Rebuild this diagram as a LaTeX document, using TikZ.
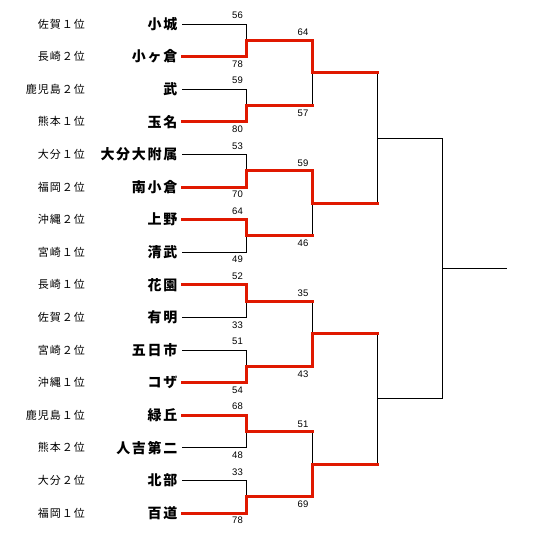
\documentclass[tikz,border=0pt]{standalone}
\usepackage{fontspec}
\newfontfamily\jp{Noto Sans CJK JP}
\newfontfamily\numf{Liberation Sans}
\definecolor{winred}{RGB}{224,24,0}
\tikzset{
 team/.style={anchor=east, inner xsep=4.5pt, inner ysep=0pt, font=\jp\bfseries\addfontfeature{LetterSpace=12}\fontsize{14}{14}\selectfont},
 pref/.style={anchor=east, inner sep=0pt, font=\jp\addfontfeature{LetterSpace=9}\fontsize{11}{11}\selectfont},
 score/.style={anchor=east, inner sep=0pt, font=\numf\fontsize{9.5}{9.5}\selectfont},
 lose/.style={black, line width=1pt},
 win/.style={winred, line width=3pt, line cap=rect},
}
\begin{document}
\begin{tikzpicture}[x=1pt,y=-1pt]
\useasboundingbox (0,0) rectangle (537,533);
% teams and prefecture labels
\foreach \n/\p [count=\i from 0] in {小城/佐賀１位, 小ヶ倉/長崎２位, 武/鹿児島２位, 玉名/熊本１位,
  大分大附属/大分１位, 南小倉/福岡２位, 上野/沖縄２位, 清武/宮崎１位,
  花園/長崎１位, 有明/佐賀２位, 五日市/宮崎２位, コザ/沖縄１位,
  緑丘/鹿児島１位, 人吉第二/熊本２位, 北部/大分２位, 百道/福岡１位} {
  \pgfmathsetmacro\yy{24+32.6*\i}
  \node[team] (t\i) at (182,\yy) {\n};
  \node[pref] (p\i) at (85,\yy) {\p};
}
% junctions
\foreach \k in {0,...,7} {
  \pgfmathsetmacro\yy{24+32.6*(2*\k+0.5)}
  \coordinate (a\k) at (246.7,\yy);
}
\foreach \k in {0,...,3} {
  \pgfmathsetmacro\yy{24+32.6*(4*\k+1.5)}
  \coordinate (b\k) at (312,\yy);
}
\foreach \k in {0,1} {
  \pgfmathsetmacro\yy{24+32.6*(8*\k+3.5)}
  \coordinate (c\k) at (377,\yy);
}
\coordinate (d) at (442,{24+32.6*7.5});
\coordinate (e) at (507,{24+32.6*7.5});
% black lines
\foreach \k in {0,...,7} {
  \pgfmathtruncatemacro\ta{2*\k}
  \pgfmathtruncatemacro\tb{2*\k+1}
  \draw[lose] (t\ta.east) -| (a\k);
  \draw[lose] (t\tb.east) -| (a\k);
}
\foreach \k in {0,...,3} {
  \pgfmathtruncatemacro\ta{2*\k}
  \pgfmathtruncatemacro\tb{2*\k+1}
  \draw[lose] (a\ta) -| (b\k);
  \draw[lose] (a\tb) -| (b\k);
}
\draw[lose] (b0) -| (c0);
\draw[lose] (b1) -| (c0);
\draw[lose] (b2) -| (c1);
\draw[lose] (b3) -| (c1);
\draw[lose] (c0) -| (d);
\draw[lose] (c1) -| (d);
\draw[lose] (d) -- (e);
% winners
\draw[win] (t1.east) -| (a0) -| (b0) -- (b0 -| c0);
\draw[win] (t3.east) -| (a1) -- (a1 -| b0);
\draw[win] (t5.east) -| (a2) -| (b1) -- (b1 -| c0);
\draw[win] (t6.east) -| (a3) -- (a3 -| b1);
\draw[win] (t8.east) -| (a4) -- (a4 -| b2);
\draw[win] (t11.east) -| (a5) -| (b2) -- (b2 -| c1);
\draw[win] (t12.east) -| (a6) -- (a6 -| b3);
\draw[win] (t15.east) -| (a7) -| (b3) -- (b3 -| c1);
% round 1 scores
\foreach \sa/\sb [count=\k from 0] in {56/78, 59/80, 53/70, 64/49, 52/33, 51/54, 68/48, 33/78} {
  \pgfmathsetmacro\ya{24+32.6*(2*\k)-8.5}
  \pgfmathsetmacro\yb{24+32.6*(2*\k+1)+7.5}
  \node[score] (sa\k) at (243,\ya) {\sa};
  \node[score] (sb\k) at (243,\yb) {\sb};
}
% round 2 scores
\foreach \sa/\sb [count=\k from 0] in {64/57, 59/46, 35/43, 51/69} {
  \pgfmathsetmacro\ya{24+32.6*(4*\k+0.5)-7.7}
  \pgfmathsetmacro\yb{24+32.6*(4*\k+2.5)+7.7}
  \node[score] (ra\k) at (308.5,\ya) {\sa};
  \node[score] (rb\k) at (308.5,\yb) {\sb};
}
\end{tikzpicture}
\end{document}
